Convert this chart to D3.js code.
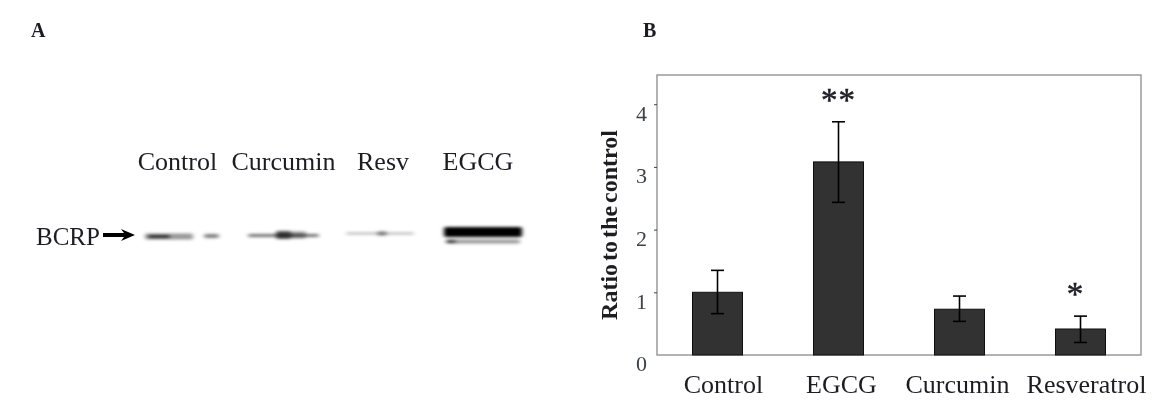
<!DOCTYPE html>
<html>
<head>
<meta charset="utf-8">
<script src="https://cdnjs.cloudflare.com/ajax/libs/d3/7.8.5/d3.min.js"></script>
<style>
  html, body { margin: 0; padding: 0; background: #fff; }
  svg { display: block; }
  text { font-family: "Liberation Serif", serif; fill: #1c1c24; }
</style>
</head>
<body>
<script>
// Panel B values
var categories = ["Control", "EGCG", "Curcumin", "Resveratrol"];
var ratios = [1.0, 3.08, 0.73, 0.415];
var errorHigh = [1.35, 3.72, 0.94, 0.62];
var errorLow = [0.66, 2.435, 0.537, 0.2];
var stars = ["", "**", "", "*"];
var yTicks = [0, 1, 2, 3, 4];

// Panel A, western blot
var laneLabels = ["Control", "Curcumin", "Resv", "EGCG"];
// band pieces: start, end along the membrane, row, thickness, density
var bandStart = [5, 8, 64, 108, 136, 150, 206, 237, 304, 306, 306, 306];
var bandEnd = [53, 30, 79, 179, 151, 166, 274, 247, 382, 380, 380, 316];
var bandRow = [11.5, 11.5, 11, 10.5, 10, 10, 8.5, 8.5, 7, 7, 16.5, 16.5];
var bandThick = [6, 3, 4, 3, 8, 7, 2, 4, 10, 8, 4, 3];
var bandDensity = [0.4, 0.75, 0.5, 0.55, 0.7, 0.4, 0.3, 0.45, 1, 1, 0.4, 0.65];

var width = 1163,
    height = 410;

// hand placed text, the labels in the figure do not sit quite on their lanes
var laneCenters = [37.5, 143.5, 243, 338];
var tickLabelShift = [6, 3, -2, 6];
var starShift = [0, 0, 0, -5];

var svg = d3.select("body").append("svg")
    .attr("width", width)
    .attr("height", height);

var defs = svg.append("defs");
defs.append("filter").attr("id", "smear")
    .attr("x", "-30%").attr("y", "-200%").attr("width", "160%").attr("height", "500%")
    .append("feGaussianBlur").attr("stdDeviation", "2.2 1.5");
defs.append("filter").attr("id", "soft")
    .append("feGaussianBlur").attr("stdDeviation", 0.4);

var page = svg.append("g").attr("filter", "url(#soft)");

// Panel letters
page.append("text").attr("x", 31).attr("y", 37)
    .attr("font-size", 20).attr("font-weight", "bold").text("A");
page.append("text").attr("x", 643).attr("y", 37)
    .attr("font-size", 20).attr("font-weight", "bold").text("B");

//// Panel A
var blotX = d3.scaleLinear().domain([0, 400]).range([140, 540]);
var blotY = d3.scaleLinear().domain([0, 20]).range([225, 245]);

page.selectAll("text.lane")
    .data(laneLabels)
  .enter().append("text")
    .attr("class", "lane")
    .attr("x", function(d, i) { return blotX(laneCenters[i]); })
    .attr("y", 170)
    .attr("text-anchor", "middle")
    .attr("font-size", 26)
    .text(function(d) { return d; });

page.append("text").attr("x", 36).attr("y", 245)
    .attr("font-size", 25).text("BCRP");

// arrow next to the BCRP label
var arrow = d3.path();
arrow.moveTo(103, 233);
arrow.lineTo(124, 233);
arrow.lineTo(121, 229);
arrow.lineTo(135, 235);
arrow.lineTo(121, 241);
arrow.lineTo(124, 237);
arrow.lineTo(103, 237);
arrow.closePath();
page.append("path").attr("d", arrow.toString()).attr("fill", "#000");

svg.append("g").attr("filter", "url(#smear)")
  .selectAll("rect")
    .data(bandStart)
  .enter().append("rect")
    .attr("x", function(d) { return blotX(d); })
    .attr("y", function(d, i) { return blotY(bandRow[i]) - bandThick[i] / 2; })
    .attr("width", function(d, i) { return blotX(bandEnd[i]) - blotX(d); })
    .attr("height", function(d, i) { return bandThick[i]; })
    .attr("rx", 2)
    .attr("fill", "#000")
    .attr("opacity", function(d, i) { return bandDensity[i]; });

//// Panel B
var margin = {left: 657, top: 75, right: 1141, bottom: 355};

var x = d3.scaleBand()
    .domain(categories)
    .range([margin.left, margin.right])
    .paddingInner(0.587)
    .paddingOuter(0.2935);

var y = d3.scaleLinear()
    .domain([0, 4.466])
    .range([margin.bottom, margin.top]);

// plot frame
page.append("rect")
    .attr("x", margin.left).attr("y", margin.top)
    .attr("width", margin.right - margin.left)
    .attr("height", margin.bottom - margin.top)
    .attr("fill", "none")
    .attr("stroke", "#8a8a8a")
    .attr("stroke-width", 1.3);

var yAxis = d3.axisLeft(y).tickValues(yTicks).tickFormat(d3.format("d")).tickSize(3).tickPadding(9);
var yG = page.append("g")
    .attr("transform", "translate(" + margin.left + ",0)")
    .call(yAxis);
yG.select(".domain").remove();
yG.selectAll("line").attr("stroke", "#444");
yG.selectAll("line").filter(function(d) { return d === 0; }).remove();
yG.selectAll("text")
    .attr("font-family", "Liberation Serif")
    .attr("font-size", 22)
    .attr("x", -10)
    .attr("dy", "0.72em")
    .style("fill", "#3a4248");

var xAxis = d3.axisBottom(x).tickSize(0).tickPadding(20);
var xG = page.append("g")
    .attr("transform", "translate(0," + margin.bottom + ")")
    .call(xAxis);
xG.select(".domain").remove();
xG.selectAll("text")
    .attr("font-family", "Liberation Serif")
    .attr("font-size", 26)
    .attr("x", function(d, i) { return tickLabelShift[i]; });

page.append("text")
    .attr("transform", "translate(617,225) rotate(-90)")
    .attr("text-anchor", "middle")
    .attr("font-size", 24)
    .attr("font-weight", "bold")
    .attr("word-spacing", -3)
    .text("Ratio to the control");

page.selectAll("rect.bar")
    .data(ratios)
  .enter().append("rect")
    .attr("class", "bar")
    .attr("x", function(d, i) { return x(categories[i]); })
    .attr("y", function(d) { return y(d); })
    .attr("width", x.bandwidth())
    .attr("height", function(d) { return y(0) - y(d); })
    .attr("fill", "#333333")
    .attr("stroke", "#111")
    .attr("stroke-width", 1);

// error bars
var capHalf = 6.5;
var errX = function(i) { return x(categories[i]) + x.bandwidth() / 2; };

var errors = page.selectAll("g.err")
    .data(ratios)
  .enter().append("g")
    .attr("class", "err")
    .attr("stroke", "#000")
    .attr("stroke-width", 1.6);

errors.append("line")
    .attr("x1", function(d, i) { return errX(i); })
    .attr("x2", function(d, i) { return errX(i); })
    .attr("y1", function(d, i) { return y(errorHigh[i]); })
    .attr("y2", function(d, i) { return y(errorLow[i]); });
errors.append("line")
    .attr("x1", function(d, i) { return errX(i) - capHalf; })
    .attr("x2", function(d, i) { return errX(i) + capHalf; })
    .attr("y1", function(d, i) { return y(errorHigh[i]); })
    .attr("y2", function(d, i) { return y(errorHigh[i]); });
errors.append("line")
    .attr("x1", function(d, i) { return errX(i) - capHalf; })
    .attr("x2", function(d, i) { return errX(i) + capHalf; })
    .attr("y1", function(d, i) { return y(errorLow[i]); })
    .attr("y2", function(d, i) { return y(errorLow[i]); });

// significance stars
page.selectAll("text.star")
    .data(stars)
  .enter().append("text")
    .attr("class", "star")
    .attr("x", function(d, i) { return errX(i) + starShift[i]; })
    .attr("y", function(d, i) { return y(errorHigh[i]) - 11; })
    .attr("text-anchor", "middle")
    .attr("font-size", 33)
    .attr("letter-spacing", 1)
    .attr("stroke", "#1c1c24")
    .attr("stroke-width", 0.5)
    .text(function(d) { return d; });
</script>
</body>
</html>
